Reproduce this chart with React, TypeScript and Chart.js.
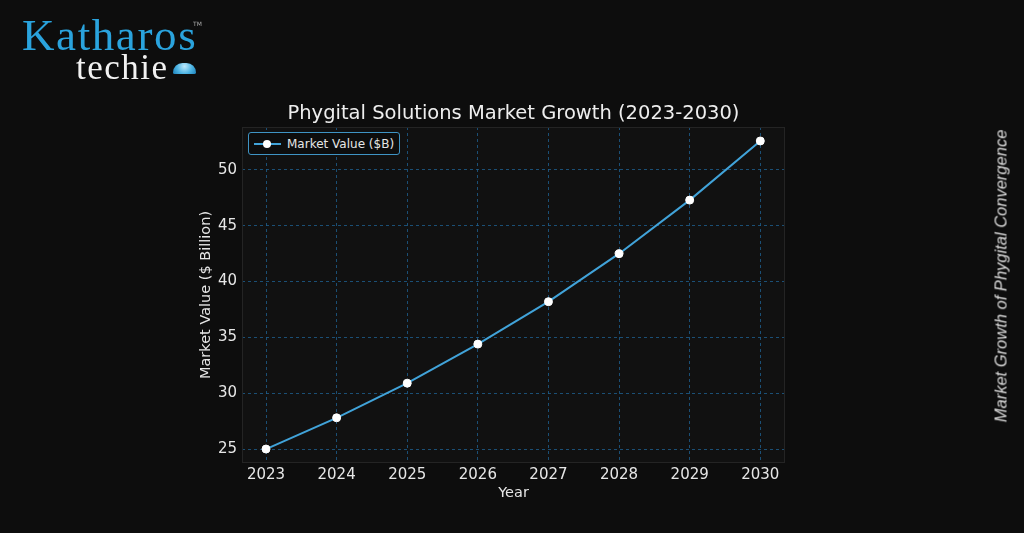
import React, { useEffect, useRef } from "react";
import { Chart, registerables } from "chart.js";

Chart.register(...registerables);

const years = [2023, 2024, 2025, 2026, 2027, 2028, 2029, 2030];
const marketValues = [25.0, 27.8, 30.9, 34.4, 38.2, 42.5, 47.3, 52.6];
const yTicks = [25, 30, 35, 40, 45, 50];
const chartTitle = "Phygital Solutions Market Growth (2023-2030)";
const seriesLabel = "Market Value ($B)";
const xTitle = "Year";
const yTitle = "Market Value ($ Billion)";
const sideText = "Market Growth of Phygital Convergence";

const BG = "#0d0d0d";
const PLOT_BG = "#111111";
const LINE = "#41a3d9";
const GRID = "#1f6090";
const TEXT = "#e6e6e6";

const plotBg = {
  id: "plotBg",
  beforeDraw(chart: any) {
    const { ctx, chartArea: a } = chart;
    ctx.save();
    ctx.fillStyle = PLOT_BG;
    ctx.fillRect(a.left, a.top, a.right - a.left, a.bottom - a.top);
    ctx.restore();
  },
  afterDraw(chart: any) {
    const { ctx, chartArea: a } = chart;
    ctx.save();
    ctx.strokeStyle = "#242424";
    ctx.lineWidth = 1;
    ctx.strokeRect(a.left + 0.5, a.top + 0.5, a.right - a.left - 1, a.bottom - a.top - 1);
    ctx.restore();
  },
};

export default function App() {
  const ref = useRef<HTMLCanvasElement>(null);
  useEffect(() => {
    if (!ref.current) return;
    const chart = new Chart(ref.current, {
      type: "line",
      data: {
        datasets: [
          {
            label: seriesLabel,
            data: years.map((y, i) => ({ x: y, y: marketValues[i] })),
            borderColor: LINE,
            borderWidth: 2,
            pointBackgroundColor: "#ffffff",
            pointBorderColor: "#ffffff",
            pointRadius: 4,
            pointBorderWidth: 1,
            tension: 0,
          },
        ],
      },
      plugins: [plotBg],
      options: {
        animation: false,
        responsive: false,
        maintainAspectRatio: false,
        layout: { padding: { left: 194, top: 127, right: 239, bottom: 27 } },
        plugins: {
          legend: { display: false },
          title: { display: false },
          tooltip: { enabled: false },
        },
        scales: {
          x: {
            type: "linear",
            min: 2022.66,
            max: 2030.35,
            afterBuildTicks: (s: any) => {
              s.ticks = years.map((v) => ({ value: v }));
            },
            afterFit: (s: any) => {
              s.height = 43;
            },
            grid: { color: GRID, lineWidth: 0.8, drawTicks: false },
            border: { display: false, dash: [3, 3] },
            ticks: {
              color: TEXT,
              padding: 3,
              font: { family: "DejaVu Sans", size: 15 },
              callback: (v: any) => String(v),
            },
            title: {
              display: true,
              text: xTitle,
              color: TEXT,
              font: { family: "DejaVu Sans", size: 14.5 },
              padding: { top: 0, bottom: 4 },
            },
          },
          y: {
            type: "linear",
            min: 23.75,
            max: 53.85,
            afterBuildTicks: (s: any) => {
              s.ticks = yTicks.map((v) => ({ value: v }));
            },
            afterFit: (s: any) => {
              s.width = 48;
            },
            grid: { color: GRID, lineWidth: 0.8, drawTicks: false },
            border: { display: false, dash: [3, 3] },
            ticks: {
              color: TEXT,
              padding: 5,
              font: { family: "DejaVu Sans", size: 15 },
            },
            title: {
              display: true,
              text: yTitle,
              color: TEXT,
              font: { family: "DejaVu Sans", size: 14.5 },
              padding: { top: 4, bottom: 0 },
            },
          },
        },
      },
    } as any);
    return () => chart.destroy();
  }, []);

  return (
    <div
      style={{
        position: "fixed",
        left: 0,
        top: 0,
        width: 1024,
        height: 533,
        background: BG,
        overflow: "hidden",
      }}
    >
      <canvas ref={ref} width={1024} height={533} style={{ position: "absolute", left: 0, top: 0 }} />
      {/* Logo */}
      <div
        style={{
          position: "absolute",
          left: 22,
          top: 11,
          fontFamily: "'Liberation Serif', 'DejaVu Serif', serif",
          fontSize: 45,
          color: "#2aa3dd",
          lineHeight: "48px",
          letterSpacing: 1.6,
        }}
      >
        Katharos
      </div>
      <div
        style={{
          position: "absolute",
          left: 193,
          top: 20,
          fontFamily: "'DejaVu Sans', sans-serif",
          fontSize: 6,
          color: "#aaaaaa",
        }}
      >
        TM
      </div>
      <div
        style={{
          position: "absolute",
          left: 76,
          top: 49,
          fontFamily: "'Liberation Serif', 'DejaVu Serif', serif",
          fontSize: 35,
          color: "#f2f2f2",
          lineHeight: "38px",
          letterSpacing: 1.5,
        }}
      >
        techie
      </div>
      <div
        style={{
          position: "absolute",
          left: 173,
          top: 63,
          width: 23,
          height: 11,
          borderRadius: "12px 12px 2px 2px",
          background: "radial-gradient(circle at 50% 30%, #bfe9fb 0%, #4bb3e3 55%, #1c7fb8 100%)",
        }}
      />
      {/* Title */}
      <div
        style={{
          position: "absolute",
          left: 242,
          width: 543,
          top: 99,
          textAlign: "center",
          fontFamily: "'DejaVu Sans', sans-serif",
          fontSize: 19.5,
          color: "#eeeeee",
          lineHeight: "27px",
          whiteSpace: "nowrap",
        }}
      >
        {chartTitle}
      </div>
      {/* Legend */}
      <div
        style={{
          position: "absolute",
          left: 248,
          top: 132,
          width: 152,
          height: 23,
          border: "1px solid #3f94c4",
          borderRadius: 3,
          background: BG,
          boxSizing: "border-box",
        }}
      >
        <div style={{ position: "absolute", left: 5, top: 10, width: 27, height: 2, background: LINE }} />
        <div
          style={{
            position: "absolute",
            left: 14,
            top: 7,
            width: 8,
            height: 8,
            borderRadius: 4,
            background: "#fff",
          }}
        />
        <div
          style={{
            position: "absolute",
            left: 38,
            top: 2,
            fontFamily: "'DejaVu Sans', sans-serif",
            fontSize: 12,
            lineHeight: "18px",
            color: "#e6e6e6",
            whiteSpace: "nowrap",
          }}
        >
          {seriesLabel}
        </div>
      </div>
      {/* Side text */}
      <div
        style={{
          position: "absolute",
          left: 1001,
          top: 276,
          transform: "translate(-50%, -50%) rotate(-90deg)",
          fontFamily: "'Liberation Sans', Arial, sans-serif",
          fontStyle: "italic",
          fontSize: 16.5,
          color: "#d8d8d8",
          whiteSpace: "nowrap",
        }}
      >
        {sideText}
      </div>
    </div>
  );
}
